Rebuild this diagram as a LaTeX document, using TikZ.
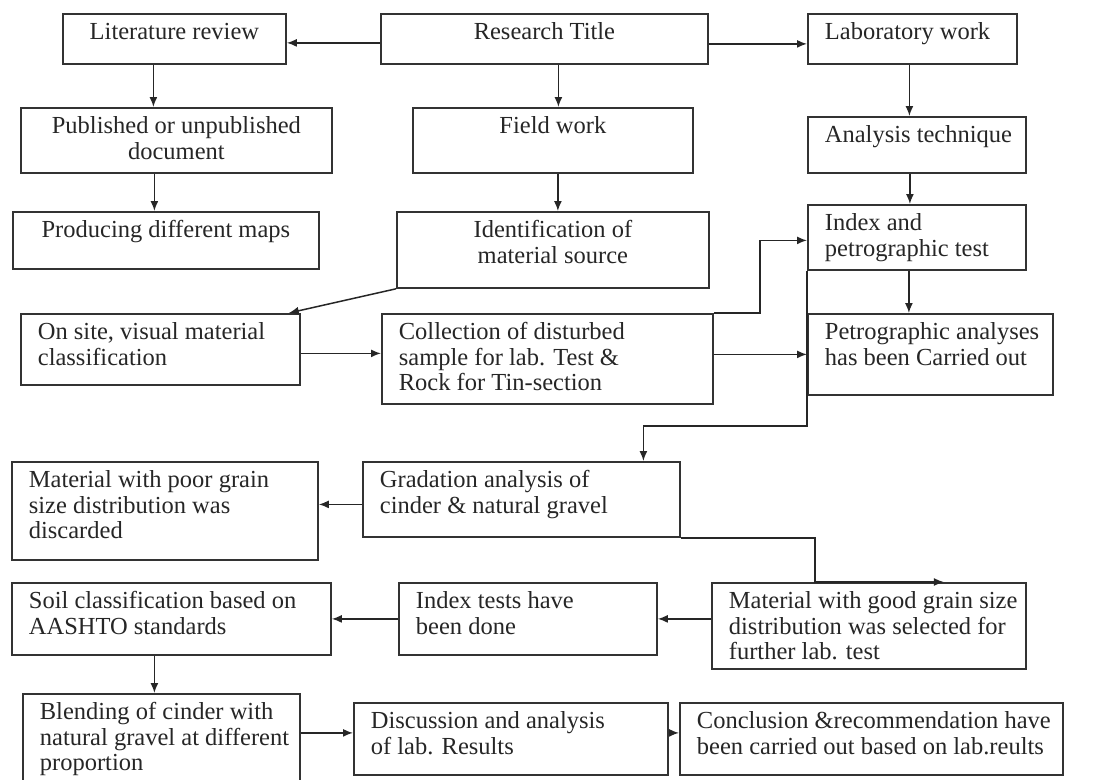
\documentclass[tikz,border=0pt]{standalone}
\usepackage{fontspec}
\setmainfont{Liberation Serif}
\usetikzlibrary{arrows.meta}

% box contents: width, height, text
\newcommand{\ctr}[3]{\parbox[t][#2pt][t]{#1pt}{\centering\rule{0pt}{26pt}#3}}
\newcommand{\lft}[3]{\parbox[t][#2pt][t]{#1pt}{\raggedright\leftskip=17pt\rule{0pt}{26pt}#3}}

\tikzset{
  box/.style={draw=black!80, line width=1.8pt, inner sep=0pt, anchor=north west, text=black!85},
  arr/.style={-{Latex[length=10pt,width=8pt]}, line width=1.5pt, draw=black!85},
}

\begin{document}
\begin{tikzpicture}[x=1pt, y=-1pt, font=\fontsize{24.5}{25.5}\selectfont]
    \useasboundingbox (0,0) rectangle (1108,779);

    \node[box] (lit)   at (62,13)   {\ctr{223}{50}{Literature review}};
    \node[box] (title) at (380,13)  {\ctr{327}{50}{Research Title}};
    \node[box] (lab)   at (807,13)  {\lft{209}{50}{Laboratory work}};

    \node[box] (pub)   at (20,107)  {\ctr{311}{65}{Published or unpublished\\document}};
    \node[box] (field) at (412,107) {\ctr{280}{65}{Field work}};
    \node[box] (tech)  at (807,116) {\lft{218}{56}{Analysis technique}};

    \node[box] (maps)  at (12,211)  {\ctr{306}{57}{Producing different maps}};
    \node[box] (ident) at (396,211) {\ctr{312}{76}{Identification of\\material source}};
    \node[box] (idx)   at (807,204) {\lft{218}{65}{Index and\\petrographic test}};

    \node[box] (site)  at (20,313)  {\lft{279}{71}{On site, visual material\\classification}};
    \node[box] (coll)  at (381,313) {\lft{331}{90}{Collection of disturbed\\sample for lab. Test \&\\Rock for Tin-section}};
    \node[box] (petro) at (807,313) {\lft{245}{81}{Petrographic analyses\\has been Carried out}};

    \node[box] (poor)  at (11,461)  {\lft{306}{98}{Material with poor grain\\size distribution was\\discarded}};
    \node[box] (grad)  at (362,461) {\lft{317}{75}{Gradation analysis of\\cinder \& natural gravel}};

    \node[box] (soil)  at (11,582)  {\lft{319}{72}{Soil classification based on\\AASHTO standards}};
    \node[box] (idxt)  at (398,582) {\lft{258}{72}{Index tests have\\been done}};
    \node[box] (good)  at (711,582) {\lft{314}{86}{Material with good grain size\\distribution was selected for\\further lab. test}};

    \node[box] (blend) at (22,693)  {\lft{277}{97}{Blending of cinder with\\natural gravel at different\\proportion}};
    \node[box] (disc)  at (353,702) {\lft{314}{72}{Discussion and analysis\\of lab. Results}};
    \node[box] (concl) at (679,702) {\lft{383}{72}{Conclusion \&recommendation have\\been carried out based on lab.reults}};

    % top branches
    \draw[arr] ([yshift=-4]title.west) -- ([yshift=-4]lit.east);
    \draw[arr] ([yshift=-5]title.east) -- ([yshift=-5]lab.west);
    \draw[arr] ([xshift=-21]lit.south) -- ([xshift=-21]lit.south |- pub.north);
    \draw[arr] ([xshift=-22]pub.south) -- ([xshift=-22]pub.south |- maps.north);
    \draw[arr] ([xshift=14]title.south) -- ([xshift=14]title.south |- field.north);
    \draw[arr] ([xshift=5]field.south) -- ([xshift=5]field.south |- ident.north);
    \draw[arr] ([xshift=-3]lab.south) -- ([xshift=-3]lab.south |- tech.north);
    \draw[arr] ([xshift=-7]tech.south) -- ([xshift=-7]tech.south |- idx.north);
    \draw[arr] ([xshift=-8]idx.south) -- ([xshift=-8]idx.south |- petro.north);

    % field work and samples
    \draw[arr] (ident.south west) -- ([xshift=-12]site.north east);
    \draw[arr] ([yshift=-4]site.east) -- ([yshift=-4]site.east -| coll.west);
    \draw[arr] (coll.east |- petro.west) -- (petro.west);
    \draw[arr] (coll.north east) -- ++(46,0) |- ([yshift=-3]idx.west);

    % gradation
    \draw[arr] (idx.south west) -- ++(0,155) -| ([xshift=122]grad.north);
    \draw[arr] ([yshift=-5]grad.west) -- ([yshift=-5]grad.west -| poor.east);
    \draw[arr] (grad.south east) -- ++(134,0) |- ([xshift=75]good.north);

    % lab tests
    \draw[arr] (good.west |- idxt.east) -- (idxt.east);
    \draw[arr] (idxt.west) -- (idxt.west -| soil.east);
    \draw[arr] ([xshift=-17]soil.south) -- ([xshift=-17]soil.south |- blend.north);
    \draw[arr] ([yshift=6]disc.west -| blend.east) -- ([yshift=6]disc.west);
    \draw[arr] ([yshift=6]disc.east) -- ([yshift=6]concl.west);
\end{tikzpicture}
\end{document}
